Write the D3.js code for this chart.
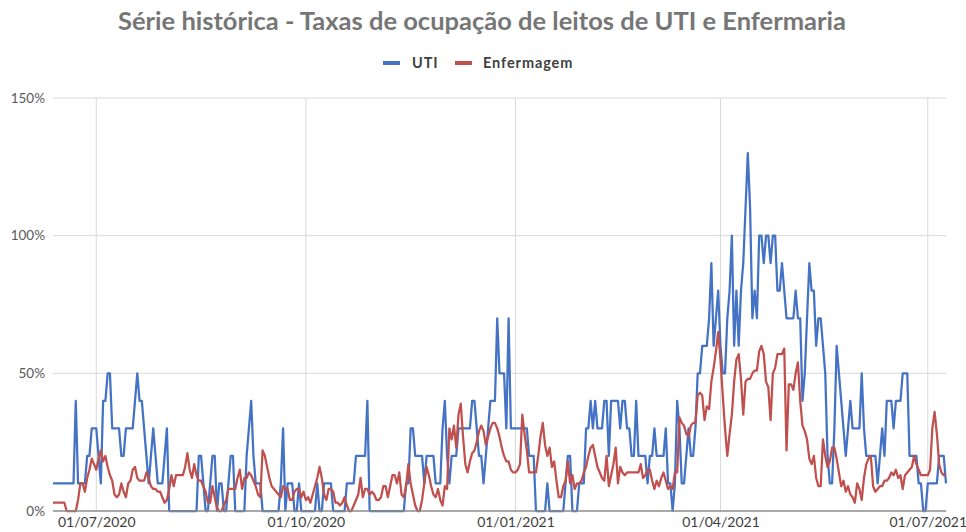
<!DOCTYPE html>
<html>
<head>
<meta charset="utf-8">
<script src="https://cdn.jsdelivr.net/npm/d3@7"></script>
<style>
  body { margin: 0; background: #fff; }
  svg { display: block; font-family: Lato, "Open Sans", sans-serif; }
</style>
</head>
<body>
<svg id="chart" width="966" height="532"></svg>
<script>
// daily series, first day 12/06/2020 (values in %)
const startDate = new Date(2020, 5, 12);

const utiValues = [
  10,10,10,10,10,10,10,10,10,10,
  40,10,10,10,10,20,20,30,30,30,
  20,10,40,40,50,50,30,30,30,30,
  20,20,30,30,30,30,40,50,40,40,
  30,20,10,20,30,20,10,10,10,20,
  30,0,0,0,0,0,0,0,0,0,
  0,0,0,0,20,20,10,0,0,10,
  20,20,0,10,10,0,0,10,20,20,
  0,0,0,0,0,20,30,40,20,10,
  10,10,0,0,0,0,0,0,0,0,
  10,30,0,10,10,10,0,0,10,0,
  0,0,0,0,0,0,10,0,0,10,
  10,10,10,0,0,0,0,0,0,10,
  10,10,10,20,20,20,20,20,40,0,
  0,0,0,0,0,0,0,0,0,0,
  0,0,0,0,0,10,10,30,30,20,
  20,20,20,10,20,20,20,20,10,10,
  10,30,40,20,10,20,20,20,30,30,
  30,30,30,30,40,40,30,20,20,10,
  20,30,40,40,40,70,50,50,50,30,
  70,30,30,30,30,30,30,30,30,20,
  20,20,0,0,0,0,0,10,0,0,
  0,0,0,0,0,10,20,20,0,0,
  0,10,10,10,30,30,40,30,40,30,
  30,30,40,40,20,40,40,40,40,30,
  40,40,30,30,20,20,40,20,20,20,
  20,10,20,20,30,20,20,20,20,30,
  10,10,0,10,40,30,10,10,20,30,
  20,20,30,50,50,60,60,60,70,90,
  60,70,80,60,50,50,70,80,100,60,
  80,60,80,90,110,130,110,70,80,70,
  100,100,90,100,100,90,100,100,80,80,
  90,80,70,70,70,70,80,70,70,40,
  50,70,90,80,80,60,70,70,60,50,
  20,10,10,30,60,50,40,30,20,30,
  40,30,30,30,30,50,30,20,20,20,
  20,20,10,20,30,20,40,40,40,30,
  40,40,40,50,50,50,20,20,20,20,
  10,10,0,0,10,10,10,10,10,20,
  20,20,10
];

const enfValues = [
  3,3,3,3,3,3,0,0,0,0,
  0,4,10,10,7,12,15,19,17,15,
  19,22,18,20,16,13,11,6,5,6,
  10,7,5,10,11,15,16,12,11,11,
  11,14,12,9,8,8,7,7,5,3,
  4,8,13,9,13,13,13,13,16,21,
  15,12,17,13,11,11,9,7,3,3,
  9,5,1,0,0,2,4,8,8,8,
  8,12,15,8,12,12,14,13,11,9,
  6,5,22,20,16,12,9,8,7,6,
  5,9,8,8,4,4,7,8,8,5,
  7,4,5,3,6,9,12,16,12,6,
  4,8,8,7,3,3,2,3,5,2,
  0,0,2,4,6,12,5,8,8,6,
  7,6,4,4,5,9,9,5,9,13,
  13,10,14,6,5,9,17,10,6,2,
  0,0,4,10,16,13,9,6,5,8,
  4,2,9,8,30,26,31,23,35,39,
  27,17,14,18,21,22,25,29,31,29,
  24,27,30,32,32,30,27,23,20,18,
  18,15,14,14,15,17,35,28,22,14,
  14,14,14,20,27,32,24,20,23,16,
  18,11,5,5,9,11,18,10,13,8,
  10,10,11,14,16,20,23,24,20,16,
  14,12,11,20,9,13,17,23,10,16,
  14,13,14,14,14,14,14,14,17,12,
  13,15,15,11,8,11,9,12,14,11,
  8,9,8,14,14,34,32,31,28,27,
  31,32,32,42,43,42,33,38,37,47,
  52,58,65,55,42,30,20,28,35,47,
  55,57,48,35,47,48,48,50,51,51,
  58,60,57,47,45,33,50,52,57,57,
  57,59,22,46,46,44,50,54,40,31,
  29,26,19,17,20,12,9,9,26,20,
  16,18,23,23,19,14,9,11,7,9,
  6,5,3,10,8,4,12,17,19,20,
  9,7,8,9,9,11,11,12,14,13,
  15,12,13,8,13,14,15,16,20,17,
  15,13,13,13,13,15,30,36,28,17,
  14,13,13
];

const xTickLabels = ['01/07/2020', '01/10/2020', '01/01/2021', '01/04/2021', '01/07/2021'];
const yTicks = [0, 0.5, 1, 1.5];
const seriesNames = ['UTI', 'Enfermagem'];
const seriesColors = ['#4472C4', '#C0504D'];

const parseDate = d3.timeParse('%d/%m/%Y');
const dates = utiValues.map((v, i) => d3.timeDay.offset(startDate, i));

const svg = d3.select('#chart');
const plotLeft = 53, plotRight = 946, plotTop = 98, plotBottom = 511;

const x = d3.scaleTime()
  .domain([dates[0], dates[dates.length - 1]])
  .range([plotLeft, plotRight]);

const y = d3.scaleLinear()
  .domain([0, 1.5])
  .range([plotBottom, plotTop]);

// title
svg.append('text')
  .attr('x', 482)
  .attr('y', 30)
  .attr('text-anchor', 'middle')
  .attr('fill', '#767676')
  .attr('font-weight', 'bold')
  .attr('font-size', 25.5)
  .text('Série histórica - Taxas de ocupação de leitos de UTI e Enfermaria');

// gridlines
svg.append('g')
  .selectAll('line')
  .data(yTicks.filter(d => d > 0))
  .join('line')
  .attr('x1', plotLeft).attr('x2', plotRight)
  .attr('y1', d => y(d)).attr('y2', d => y(d))
  .attr('stroke', '#d9d9d9')
  .attr('stroke-width', 1);

svg.append('g')
  .selectAll('line')
  .data(xTickLabels)
  .join('line')
  .attr('x1', d => x(parseDate(d))).attr('x2', d => x(parseDate(d)))
  .attr('y1', plotTop).attr('y2', plotBottom)
  .attr('stroke', '#d9d9d9')
  .attr('stroke-width', 1);

// axes labels
const yAxis = svg.append('g')
  .attr('transform', `translate(${plotLeft},0)`)
  .call(d3.axisLeft(y).tickValues(yTicks).tickFormat(d3.format('.0%')).tickSize(0).tickPadding(8));
yAxis.select('.domain').remove();
yAxis.selectAll('text')
  .attr('font-family', 'Lato, sans-serif')
  .attr('font-size', 13.5)
  .attr('fill', '#595959');

const xAxis = svg.append('g')
  .attr('transform', `translate(0,${plotBottom})`)
  .call(d3.axisBottom(x).tickValues(xTickLabels.map(parseDate)).tickFormat(d3.timeFormat('%d/%m/%Y')).tickSize(0).tickPadding(6));
xAxis.select('.domain').remove();
xAxis.selectAll('text')
  .attr('font-family', 'Lato, sans-serif')
  .attr('font-size', 14)
  .attr('fill', '#404040');

// lines
const line = d3.line()
  .x((d, i) => x(dates[i]))
  .y(d => y(d / 100));

[utiValues, enfValues].forEach((vals, k) => {
  svg.append('path')
    .datum(vals)
    .attr('fill', 'none')
    .attr('stroke', seriesColors[k])
    .attr('stroke-width', 2.25)
    .attr('stroke-linejoin', 'round')
    .attr('d', line);
});

// base axis line
svg.append('line')
  .attr('x1', plotLeft).attr('x2', plotRight)
  .attr('y1', plotBottom).attr('y2', plotBottom)
  .attr('stroke', '#8c8c8c')
  .attr('stroke-width', 1.5);

// legend
const legendX = [383, 455];
const legend = svg.append('g')
  .selectAll('g')
  .data(seriesNames)
  .join('g')
  .attr('transform', (d, i) => `translate(${legendX[i]},63)`);

legend.append('line')
  .attr('x1', 0).attr('x2', 17)
  .attr('stroke', (d, i) => seriesColors[i])
  .attr('stroke-width', 4);

legend.append('text')
  .attr('x', (d, i) => i === 0 ? 29 : 28)
  .attr('y', 5)
  .attr('font-size', 14.5)
  .attr('font-weight', 'bold')
  .attr('letter-spacing', 0.9)
  .attr('fill', '#404040')
  .text(d => d);
</script>
</body>
</html>
